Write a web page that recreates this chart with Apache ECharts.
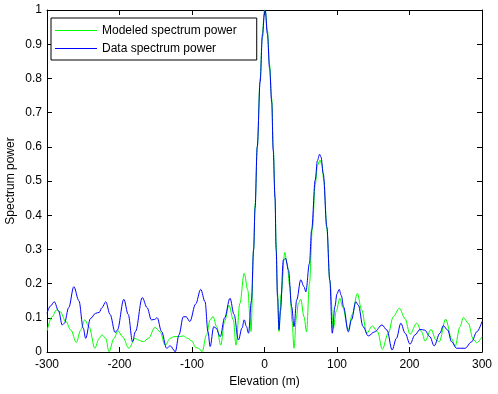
<!DOCTYPE html>
<html>
<head>
<meta charset="utf-8">
<script src="https://cdn.jsdelivr.net/npm/echarts@6/dist/echarts.min.js"></script>
<style>
html,body{margin:0;padding:0;background:#fff;}
#c{width:498px;height:394px;}
</style>
</head>
<body>
<div id="c"></div>
<script>
// Elevation (m) sample positions and spectrum power values
const modeledX = [-300,-293,-287,-282,-274,-267,-259.6,-253.5,-248,-242,-234,-228,-224,-219,-214.5,-207.6,-202,-196,-187,-178.6,-174,-167,-160,-151,-144,-137,-130,-125,-118,-112,-106,-100,-95,-91,-86,-80,-75,-71,-66,-60.4,-55,-49,-43,-39.3,-34,-28,-23,-20,-18.6,-15,-13,-10,-6,-3,0,1,4,7,10,12,14.5,16,18,20,23,28,31,35,38,40.7,44,46.6,50,54.5,58,62,66,70,73,76.6,79,82,86,90,95,99,104,108,115.6,121,128,134,141,148.7,156,162.5,170.7,177.6,186,193.8,200.7,209.9,216.8,221.4,229.7,236.6,241,249.9,258,262.8,269.7,274.3,281,288,292.8,300];
const modeledY = [0.061,0.103,0.123,0.118,0.089,0.064,0.028,0.064,0.094,0.074,0.011,0.040,0.050,0.040,0.001,0.040,0.062,0.045,0.011,0.040,0.035,0.030,0.040,0.072,0.059,0.020,0.040,0.045,0.045,0.047,0.040,0.032,0.013,0.011,0.001,0.050,0.094,0.104,0.074,0.020,0.090,0.137,0.094,0.020,0.142,0.230,0.181,0.103,0.060,0.300,0.430,0.600,0.800,0.930,1.000,1.000,0.940,0.840,0.740,0.600,0.460,0.320,0.170,0.060,0.170,0.291,0.260,0.191,0.090,0.011,0.100,0.142,0.154,0.103,0.059,0.200,0.360,0.490,0.545,0.561,0.550,0.500,0.360,0.210,0.069,0.120,0.157,0.130,0.064,0.110,0.171,0.123,0.055,0.076,0.059,0.008,0.055,0.103,0.128,0.098,0.052,0.084,0.059,0.032,0.066,0.035,0.030,0.096,0.040,0.016,0.074,0.101,0.084,0.037,0.027,0.045];

const dataX = [-300,-295,-290,-284,-279,-276,-270,-263,-256,-250,-246.7,-240,-233,-228,-224,-219,-213,-206,-203,-194,-188,-182,-178,-168.5,-162,-156,-152,-148,-142,-135,-130,-123,-118,-112,-108,-103,-95,-88,-82,-78,-75,-70,-67,-61,-55,-47.6,-42,-36,-31,-28,-25,-22,-18,-15,-13,-10,-6,-3,0,1,4,7,10,12,14.5,16,18,20,22,26,29,33,37.5,40.7,44.4,50,54.5,57,62,65,70,73,76,78,81,86,90,93.5,97,100,103,106,109,115.6,120,126,129.4,136,143,152,162,169,176,182,188,194,200.7,207.6,214.5,221,228,234,242,246.6,252.7,258,265,276.6,285.8,292.8,300];
const dataY = [0.113,0.135,0.147,0.120,0.079,0.084,0.130,0.191,0.150,0.070,0.040,0.098,0.113,0.116,0.130,0.147,0.110,0.057,0.064,0.154,0.110,0.030,0.060,0.159,0.130,0.094,0.095,0.100,0.060,0.011,0.018,0.001,0.050,0.103,0.103,0.089,0.140,0.183,0.147,0.060,0.016,0.074,0.070,0.045,0.100,0.157,0.110,0.035,0.070,0.094,0.075,0.055,0.150,0.300,0.420,0.600,0.790,0.920,0.990,1.000,0.930,0.830,0.730,0.590,0.450,0.300,0.160,0.065,0.120,0.269,0.274,0.240,0.132,0.074,0.152,0.211,0.191,0.176,0.259,0.357,0.503,0.560,0.578,0.570,0.522,0.366,0.211,0.055,0.132,0.170,0.183,0.165,0.132,0.059,0.094,0.147,0.137,0.074,0.047,0.059,0.079,0.064,0.006,0.040,0.084,0.055,0.023,0.050,0.066,0.064,0.045,0.018,0.055,0.077,0.064,0.030,0.011,0.011,0.030,0.059,0.089];

const seriesNames = ['Modeled spectrum power', 'Data spectrum power'];
const xRange = [-300, 300, 100];
const yRange = [0, 1, 0.1];
const xName = 'Elevation (m)';
const yName = 'Spectrum power';

const FONT = '"Liberation Sans", Arial, sans-serif';
const pair = (xs, ys) => xs.map((x, i) => [x, ys[i]]);

const chart = echarts.init(document.getElementById('c'), null, {renderer: 'canvas'});

const axisBase = {
  axisLine: {show: true, onZero: false, lineStyle: {color: '#000', width: 1}},
  axisTick: {show: true, inside: true, length: 5, lineStyle: {color: '#000'}},
  splitLine: {show: false}
};

chart.setOption({
  animation: false,
  backgroundColor: '#fff',
  grid: {left: 47, top: 10, width: 435, height: 342, containLabel: false, outerBoundsMode: 'none'},
  legend: {
    orient: 'vertical',
    left: 51, top: 18,
    padding: [5, 20, 4, 4],
    borderColor: '#000', borderWidth: 1, backgroundColor: '#fff',
    itemWidth: 42, itemHeight: 1, itemGap: 3, icon: 'rect',
    textStyle: {fontFamily: FONT, fontSize: 12, color: '#000', lineHeight: 15},
    itemStyle: {borderWidth: 0},
    data: seriesNames
  },
  xAxis: [
    Object.assign({}, axisBase, {
      type: 'value', position: 'bottom', min: xRange[0], max: xRange[1], interval: xRange[2],
      name: xName, nameLocation: 'middle', nameGap: 24, nameMoveOverlap: false,
      nameTextStyle: {fontFamily: FONT, fontSize: 12, color: '#000'},
      axisLabel: {fontFamily: FONT, fontSize: 12, color: '#000', margin: 7}
    }),
    Object.assign({}, axisBase, {
      type: 'value', position: 'top', min: xRange[0], max: xRange[1], interval: xRange[2],
      axisLabel: {show: false}
    })
  ],
  yAxis: [
    Object.assign({}, axisBase, {
      type: 'value', position: 'left', min: yRange[0], max: yRange[1], interval: yRange[2],
      name: yName, nameLocation: 'middle', nameGap: 30, nameMoveOverlap: false,
      nameTextStyle: {fontFamily: FONT, fontSize: 12, color: '#000'},
      axisLabel: {fontFamily: FONT, fontSize: 12, color: '#000', margin: 5,
        formatter: v => String(Math.round(v * 10) / 10)}
    }),
    Object.assign({}, axisBase, {
      type: 'value', position: 'right', min: yRange[0], max: yRange[1], interval: yRange[2],
      axisLabel: {show: false}
    })
  ],
  series: [
    {
      name: seriesNames[0], type: 'line', xAxisIndex: 0, yAxisIndex: 0,
      data: pair(modeledX, modeledY), showSymbol: false, symbol: 'none',
      smooth: 0.35, smoothMonotone: 'x', clip: true,
      color: '#00ff00', lineStyle: {color: '#00ff00', width: 1}
    },
    {
      name: seriesNames[1], type: 'line', xAxisIndex: 0, yAxisIndex: 0,
      data: pair(dataX, dataY), showSymbol: false, symbol: 'none',
      smooth: 0.35, smoothMonotone: 'x', clip: true,
      color: '#0000ff', lineStyle: {color: '#0000ff', width: 1}
    }
  ]
});
</script>
</body>
</html>
